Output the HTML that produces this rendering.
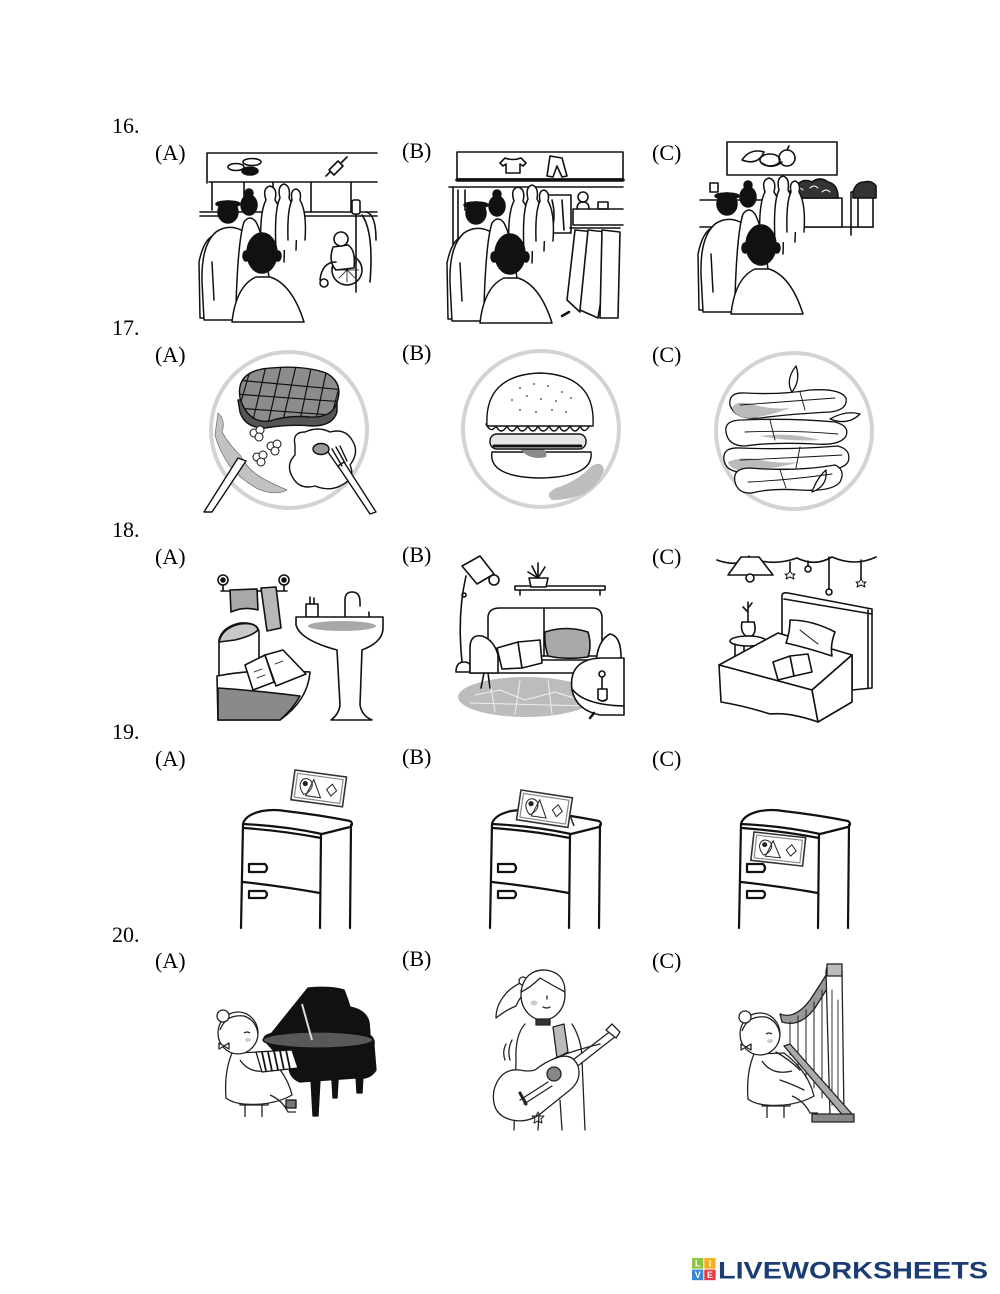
<!DOCTYPE html>
<html><head><meta charset="utf-8"><style>
html,body{margin:0;padding:0;background:#fff;}
svg{display:block;}
.t{font-family:"Liberation Serif",serif;font-size:22px;fill:#000;}
</style></head><body>
<svg width="1000" height="1294" viewBox="0 0 1000 1294" xmlns="http://www.w3.org/2000/svg">
<defs>
<clipPath id="steakclip"><path d="M240 398 Q236 374 262 369 Q300 364 326 373 Q345 383 336 405 Q330 418 310 417 Q288 415 270 421 Q248 424 240 398 Z"/></clipPath>
<g id="q" stroke="#111" stroke-width="1.5" stroke-linejoin="round" stroke-linecap="round">
 <path fill="#fff" d="M262 262 Q258 215 266 200 Q262 188 270 186 Q278 188 275 200 Q286 215 284 262"/>
 <path fill="#fff" d="M276 250 Q274 210 280 198 Q277 186 284 184 Q291 186 289 198 Q298 212 296 250"/>
 <path fill="#fff" d="M288 240 Q287 210 292 200 Q290 190 296 189 Q302 191 300 200 Q307 212 305 240"/>
 <path fill="#fff" d="M200 318 L199 262 Q204 238 215 235 L222 240 L220 318 Z"/>
 <path fill="#fff" d="M204 320 L202 282 Q201 245 216 232 Q228 224 241 230 Q252 240 254 262 L252 320 Z"/>
 <path fill="none" d="M212 262 L214 300 M244 262 L246 300"/>
 <ellipse cx="228" cy="212" rx="10" ry="11" fill="#111"/>
 <ellipse cx="228" cy="204" rx="12" ry="3" fill="#111"/>
 <path fill="#fff" d="M236 305 Q238 240 244 222 Q250 214 256 222 Q266 240 272 305 Z"/>
 <ellipse cx="249" cy="205" rx="8" ry="10" fill="#111"/>
 <circle cx="249" cy="193" r="4" fill="#111"/>
 <path fill="#fff" d="M232 322 Q236 286 256 277 L270 277 Q292 284 304 322 Z"/>
 <ellipse cx="246" cy="256" rx="3" ry="5" fill="#111"/>
 <ellipse cx="278" cy="256" rx="3" ry="5" fill="#111"/>
 <ellipse cx="262" cy="253" rx="15" ry="20" fill="#111"/>
</g>
<g id="fr" stroke="#111" stroke-width="2.2" fill="none" stroke-linecap="round" stroke-linejoin="round">
 <path fill="#fff" d="M243 824 Q245 815 262 811 Q275 809 285 811 Q320 815 350 821 Q354 824 350 827 Q338 830 322 834 Q285 826 243 824 Z"/>
 <path d="M244 828 Q285 831 321 838"/>
 <path d="M243 824 L241 928"/>
 <path d="M321 834 L320 928"/>
 <path d="M351 825 L350 928"/>
 <path d="M243 882 Q280 886 320 893"/>
 <path d="M249 864 H265 Q269 868 265 872 H249 Z"/>
 <path d="M249 891 H265 Q269 894 265 898 H249 Z"/>
</g>
<g id="pic">
 <rect x="0" y="0" width="52" height="30" fill="#fff" stroke="#333" stroke-width="1.6"/>
 <rect x="3" y="3" width="46" height="24" fill="none" stroke="#888" stroke-width="1.2"/>
 <path d="M13 7 Q20 8 19 15 Q17 21 12 23 Q7 18 7 13 Q8 7 13 7 Z" fill="none" stroke="#222" stroke-width="1"/>
 <circle cx="12" cy="12" r="2.6" fill="#222"/>
 <path d="M20 7 L29 24 L14 24 Z" fill="none" stroke="#222" stroke-width="1"/>
 <path d="M39 9 L44 15 L39 21 L34 15 Z" fill="none" stroke="#222" stroke-width="1"/>
</g>
<g id="girl" stroke="#222" stroke-width="1.3" fill="#fff" stroke-linejoin="round">
 <path d="M245 1100 V1117 M262 1100 V1117"/>
 <rect x="240" y="1100" width="28" height="5" fill="#fff"/>
 <path d="M232 1053 Q224 1072 226 1098 Q236 1106 262 1104 Q280 1102 292 1095 Q286 1070 262 1052 Z"/>
 <path d="M270 1095 Q282 1100 288 1112 L296 1112" fill="none"/>
 <path d="M240 1060 Q250 1075 270 1070" fill="none"/>
 <ellipse cx="238" cy="1033" rx="20" ry="21"/>
 <path d="M220 1030 Q226 1014 244 1016 Q256 1020 258 1034" fill="none"/>
 <circle cx="223" cy="1016" r="6"/>
 <path d="M219 1043 l5 3 l-5 3 z M229 1043 l-5 3 l5 3 z"/>
 <ellipse cx="248" cy="1040" rx="3" ry="2" fill="#ccc" stroke="none"/>
 <path d="M244 1033 q3 -2 6 0" fill="none"/>
</g>
</defs>

<!-- Labels -->
<text class="t" x="112" y="133">16.</text>
<text class="t" x="155" y="160">(A)</text>
<text class="t" x="402" y="158">(B)</text>
<text class="t" x="652" y="160">(C)</text>
<text class="t" x="112" y="335">17.</text>
<text class="t" x="155" y="362">(A)</text>
<text class="t" x="402" y="360">(B)</text>
<text class="t" x="652" y="362">(C)</text>
<text class="t" x="112" y="537">18.</text>
<text class="t" x="155" y="564">(A)</text>
<text class="t" x="402" y="562">(B)</text>
<text class="t" x="652" y="564">(C)</text>
<text class="t" x="112" y="739">19.</text>
<text class="t" x="155" y="766">(A)</text>
<text class="t" x="402" y="764">(B)</text>
<text class="t" x="652" y="766">(C)</text>
<text class="t" x="112" y="942">20.</text>
<text class="t" x="155" y="968">(A)</text>
<text class="t" x="402" y="966">(B)</text>
<text class="t" x="652" y="968">(C)</text>

<!-- 16 A -->
<g stroke="#111" stroke-width="1.6" fill="none" stroke-linecap="round" stroke-linejoin="round">
 <path d="M207 153 H377 M207 153 V183 M209 182 H377"/>
 <path d="M212 182 V210 M244 182 V200 M273 182 V195 M311 182 V212 M351 182 V212"/>
 <path d="M200 212 H377 M200 216 H225 M300 216 H377"/>
 <ellipse cx="236" cy="167" rx="8" ry="3.5"/>
 <ellipse cx="252" cy="162" rx="9" ry="3.5"/>
 <ellipse cx="250" cy="171" rx="8" ry="4" fill="#111"/>
 <path d="M329 170 L338 161 L343 166 L334 175 Z"/>
 <path d="M326 176 L330 172 M341 163 L347 157"/>
 <circle cx="347" cy="270" r="15" fill="#fff"/>
 <path d="M347 258 V282 M335 270 H359 M339 262 L355 278 M355 262 L339 278" stroke-width="0.8"/>
 <circle cx="324" cy="283" r="4" fill="#fff"/>
 <path d="M356 200 V292"/>
 <rect x="352" y="200" width="8" height="14" rx="2" fill="#fff"/>
 <path fill="#fff" d="M333 247 Q328 262 336 270 L354 268 Q356 250 348 245 Z"/>
 <circle cx="341" cy="239" r="7" fill="#fff"/>
 <path d="M336 262 Q322 262 320 280"/>
 <path d="M362 215 Q374 232 370 282 M366 212 Q376 214 376 240"/>
</g>
<use href="#q"/>

<!-- 16 B -->
<g stroke="#111" stroke-width="1.6" fill="none" stroke-linecap="round" stroke-linejoin="round">
 <rect x="457" y="152" width="166" height="27" fill="#fff"/>
 <path d="M457 180 H623" stroke-width="3.5"/>
 <path d="M505 158 L500 163 L503 166 L506 164 L506 173 L520 173 L520 164 L523 166 L526 163 L521 158 Q513 161 505 158 Z"/>
 <path d="M550 156 L562 158 L567 176 L562 177 L557 166 L553 177 L547 176 Z"/>
 <path d="M449 187 H623 M453 187 V258 M458 190 V240 M465 190 V210"/>
 <rect x="547" y="195" width="24" height="38"/>
 <path d="M552 200 Q556 215 552 230 M562 200 L564 230"/>
 <path d="M573 209 H623 M573 209 V225 M573 225 H623"/>
 <circle cx="583" cy="197" r="5"/>
 <path d="M577 209 Q577 202 583 202 Q589 202 589 209"/>
 <rect x="598" y="202" width="10" height="7"/>
 <path d="M570 228 H620"/>
 <path fill="#fff" d="M575 230 L567 300 L580 312 L588 260 L595 232 Z"/>
 <path fill="#fff" d="M588 230 L580 310 L598 318 L606 270 L606 232 Z"/>
 <path fill="#fff" d="M602 230 L600 318 L618 318 L620 232 Z"/>
 <path d="M569 312 L562 316" stroke-width="2.5"/>
</g>
<use href="#q" x="248" y="1"/>

<!-- 16 C -->
<g stroke="#111" stroke-width="1.6" fill="none" stroke-linecap="round" stroke-linejoin="round">
 <rect x="727" y="142" width="110" height="33" fill="#fff"/>
 <path d="M742 160 Q750 148 764 152 Q758 166 742 160 Z"/>
 <ellipse cx="770" cy="160" rx="10" ry="6"/>
 <path d="M762 163 Q772 170 782 162"/>
 <circle cx="787" cy="158" r="8"/>
 <path d="M787 150 L789 146"/>
 <path d="M700 200 H787 M700 227 H873"/>
 <rect x="788" y="198" width="54" height="29" fill="#fff"/>
 <path fill="#333" d="M788 198 Q790 186 798 184 Q804 178 812 182 Q820 176 828 182 Q838 184 838 198 Z"/>
 <path d="M795 190 q4 -4 8 0 M810 188 q4 -4 8 0 M822 192 q4 -4 8 0" stroke="#fff" stroke-width="1"/>
 <rect x="851" y="192" width="22" height="35" fill="#fff"/>
 <path fill="#333" d="M853 192 Q856 182 864 182 Q872 180 876 186 L876 198 L853 198 Z"/>
 <path d="M851 227 V235 M858 198 V227"/>
 <rect x="710" y="183" width="8" height="9" fill="#fff"/>
</g>
<use href="#q" x="499" y="-8"/>

<!-- 17 A -->
<circle cx="289" cy="430" r="78" fill="#fff" stroke="#d3d3d3" stroke-width="4"/>
<g stroke="#111" stroke-width="1.4" stroke-linejoin="round" stroke-linecap="round">
 <path fill="#c2c2c2" stroke="#777" stroke-width="0.8" d="M218 413 Q226 420 222 432 Q230 446 240 455 Q248 470 262 478 Q275 485 287 490 Q275 496 258 489 Q240 479 229 465 Q219 450 215 435 Z"/>
 <path fill="#555" d="M238 400 L240 412 Q245 428 265 428 Q290 424 312 426 Q333 426 337 412 L337 400 Z"/>
 <path fill="#8c8c8c" d="M240 398 Q236 374 262 369 Q300 364 326 373 Q345 383 336 405 Q330 418 310 417 Q288 415 270 421 Q248 424 240 398 Z"/>
 <g clip-path="url(#steakclip)" fill="none" stroke-width="1.2">
  <path d="M252 364 L238 412 M267 362 L252 424 M282 362 L268 424 M297 362 L283 420 M312 364 L300 420 M327 368 L316 420 M342 376 L331 418"/>
  <path d="M236 380 L345 390 M234 394 L345 402 M236 408 L345 416"/>
 </g>
 <g fill="#fff" stroke-width="1">
  <circle cx="254" cy="433" r="4"/><circle cx="260" cy="430" r="4"/><circle cx="259" cy="437" r="4"/>
  <circle cx="271" cy="446" r="4"/><circle cx="277" cy="444" r="4"/><circle cx="275" cy="451" r="4"/>
  <circle cx="257" cy="457" r="4"/><circle cx="263" cy="455" r="4"/><circle cx="261" cy="462" r="4"/>
 </g>
 <path fill="#fff" d="M295 445 Q292 432 305 432 Q318 426 330 432 Q345 428 352 440 Q360 452 350 465 Q356 478 342 485 Q330 492 315 486 Q300 490 293 478 Q285 465 295 455 Z"/>
 <ellipse cx="321" cy="449" rx="8" ry="5.5" fill="#999"/>
 <path fill="#fff" d="M338 466 L344 462 L376 512 L370 514 Z"/>
 <path fill="none" d="M328 452 L339 468 M332 449 L342 466 M336 447 L345 463 M340 446 L347 461"/>
 <path fill="#fff" d="M238 458 L246 461 L212 512 L204 512 Z"/>
</g>

<!-- 17 B -->
<circle cx="541" cy="429" r="78" fill="#fff" stroke="#d3d3d3" stroke-width="4"/>
<g stroke="#111" stroke-width="1.4" stroke-linejoin="round" stroke-linecap="round">
 <path fill="#bdbdbd" stroke="none" d="M592 466 Q602 460 604 470 Q598 486 585 493 Q570 500 552 500 Q544 494 556 488 Q576 482 592 466 Z"/>
 <path fill="#fff" d="M492 452 Q488 477 540 478 Q594 477 591 452 Z"/>
 <path fill="#8a8a8a" stroke="none" d="M520 449 Q530 461 546 457 Q548 450 540 448 Z"/>
 <rect x="490" y="434" width="96" height="15" rx="7" fill="#e6e6e6"/>
 <path d="M494 446 H582" stroke-dasharray="1 1.6" stroke-width="3" fill="none"/>
 <path fill="#fff" d="M486 424 q5 10 10 2 q5 10 11 0 q5 10 10 0 q5 10 11 0 q5 10 10 0 q5 10 11 0 q5 10 10 0 q5 10 11 0 q5 10 10 0 q5 10 10 -2 Z"/>
 <path fill="#fff" d="M487 426 Q484 375 540 373 Q596 375 593 426 Z"/>
 <g fill="#333" stroke="none">
  <circle cx="520" cy="388" r="0.9"/><circle cx="534" cy="384" r="0.9"/><circle cx="548" cy="386" r="0.9"/><circle cx="562" cy="392" r="0.9"/>
  <circle cx="512" cy="400" r="0.9"/><circle cx="527" cy="396" r="0.9"/><circle cx="541" cy="399" r="0.9"/><circle cx="556" cy="401" r="0.9"/><circle cx="571" cy="398" r="0.9"/>
  <circle cx="520" cy="410" r="0.9"/><circle cx="536" cy="412" r="0.9"/><circle cx="552" cy="410" r="0.9"/><circle cx="566" cy="412" r="0.9"/>
 </g>
</g>

<!-- 17 C -->
<circle cx="794" cy="431" r="78" fill="#fff" stroke="#d3d3d3" stroke-width="4"/>
<g stroke="#111" stroke-width="1.3" stroke-linejoin="round" stroke-linecap="round">
 <path fill="#fff" d="M792 392 Q785 380 796 366 Q801 380 792 392 Z"/>
 <path fill="#fff" d="M730 405 Q728 392 745 393 Q780 395 810 390 Q840 388 846 398 Q848 410 830 412 Q790 414 760 418 Q735 420 730 405 Z"/>
 <path fill="#bbb" stroke="none" d="M732 408 Q736 400 752 404 Q770 410 790 408 Q770 416 750 418 Q736 418 732 408 Z"/>
 <path fill="#fff" d="M830 419 Q846 410 860 414 Q848 426 830 419 Z"/>
 <path fill="#fff" d="M726 432 Q724 420 742 420 Q790 418 835 422 Q850 426 846 436 Q840 446 815 444 Q770 442 745 446 Q728 446 726 432 Z"/>
 <path fill="#bbb" stroke="none" d="M760 436 Q790 432 820 440 Q790 442 760 436 Z"/>
 <path fill="#fff" d="M724 460 Q722 447 740 448 Q790 450 838 446 Q852 450 848 462 Q842 472 810 470 Q770 468 742 472 Q726 472 724 460 Z"/>
 <path fill="#bbb" stroke="none" d="M728 462 Q740 456 760 460 Q780 464 800 462 Q770 470 745 471 Q730 470 728 462 Z"/>
 <path fill="#fff" d="M735 482 Q732 468 750 468 Q795 472 835 465 Q846 470 840 482 Q832 492 800 490 Q770 488 752 493 Q738 494 735 482 Z"/>
 <path fill="#fff" d="M812 492 Q817 478 826 470 Q828 486 812 492 Z"/>
 <path fill="none" stroke-width="0.9" d="M740 405 Q780 402 835 398 M745 432 Q790 430 838 434 M740 460 Q790 458 842 455 M748 482 Q790 480 832 474 M800 392 L805 410 M770 420 L775 440 M800 447 L796 468 M780 470 L786 488"/>
</g>

<!-- 18 A bathroom -->
<g stroke="#111" stroke-width="1.6" fill="none" stroke-linecap="round" stroke-linejoin="round">
 <circle cx="223" cy="580" r="5"/><circle cx="223" cy="580" r="2" fill="#111"/>
 <circle cx="284" cy="580" r="5"/><circle cx="284" cy="580" r="2" fill="#111"/>
 <path d="M223 585 V591 M284 585 V591 M221 591 H287"/>
 <path fill="#a8a8a8" d="M230 590 L257 589 L258 610 Q244 606 231 612 Z"/>
 <path fill="#b8b8b8" d="M261 588 L276 587 L281 628 L267 631 Z"/>
 <rect x="306" y="604" width="12" height="13" fill="#fff"/>
 <path d="M310 604 V597 M314 604 V598"/>
 <path d="M345 617 V600 Q345 592 352 592 Q360 592 360 602 V606"/>
 <path d="M369 617 V612"/>
 <path fill="#fff" d="M296 617 H383 V628 Q383 642 362 650 L360 705 Q362 716 372 720 H331 Q339 714 340 705 L337 650 Q300 640 296 625 Z"/>
 <ellipse cx="342" cy="626" rx="34" ry="5" fill="#a8a8a8" stroke="none"/>
 <path fill="#fff" d="M219 640 Q222 627 240 623 Q258 622 259 632 L259 680 L219 682 Z"/>
 <path fill="#c8c8c8" d="M219 642 Q222 628 240 624 Q256 622 258 630 Q252 636 235 640 Z"/>
 <path fill="#fff" d="M217 676 Q260 668 310 672 Q308 700 280 720 H218 Z"/>
 <path fill="#8a8a8a" d="M218 688 Q250 690 300 696 Q292 710 280 720 H218 Z"/>
 <path fill="#fff" d="M245 665 L265 655 L274 682 L253 690 Z"/>
 <path fill="#fff" d="M265 655 L283 650 L306 674 L276 686 Z"/>
 <path d="M254 672 l8 -3 M257 678 l8 -3 M275 664 l8 -3" stroke-width="0.8"/>
</g>

<!-- 18 B living room -->
<g stroke="#111" stroke-width="1.6" fill="none" stroke-linecap="round" stroke-linejoin="round">
 <ellipse cx="526" cy="697" rx="68" ry="20" fill="#bcbcbc" stroke="none"/>
 <path d="M475 695 L500 690 L525 700 L555 692 L580 700 M490 682 L495 712 M520 680 L515 714 M548 680 L552 714 M470 703 L590 706" stroke="#eee" stroke-width="1"/>
 <path fill="#fff" d="M462 566 L480 556 L494 574 L477 584 Z"/>
 <circle cx="494" cy="580" r="5"/>
 <path d="M466 576 Q457 615 462 662"/>
 <circle cx="464" cy="595" r="2"/>
 <path fill="#fff" d="M456 672 Q456 662 464 662 Q472 662 472 672 Z"/>
 <rect x="515" y="586" width="90" height="4" fill="#fff"/>
 <path d="M520 590 V595 M600 590 V595"/>
 <path fill="#fff" d="M529 578 H548 L546 587 H531 Z"/>
 <path d="M538 578 L532 566 M538 578 L538 563 M538 578 L545 567 M538 578 L528 572"/>
 <path fill="#fff" d="M488 656 V618 Q488 608 500 608 H592 Q602 608 602 618 V656 Z"/>
 <path d="M544 608 V656"/>
 <path fill="#fff" d="M470 660 H620 V673 H470 Z"/>
 <path fill="#fff" d="M470 673 V648 Q470 634 482 636 Q494 640 498 655 V673 Z"/>
 <path fill="#fff" d="M596 662 Q598 640 610 634 Q622 636 621 662 Z"/>
 <path d="M484 673 L481 688 M488 673 L490 688 M597 673 L599 686"/>
 <path fill="#a8a8a8" d="M545 632 Q566 625 588 632 Q592 645 588 657 Q566 660 548 656 Q544 644 545 632 Z"/>
 <path fill="#fff" d="M497 648 L518 642 L522 668 L502 669 Z"/>
 <path fill="#fff" d="M518 642 L540 640 L542 663 L522 668 Z"/>
 <path fill="#fff" d="M572 690 Q568 660 600 658 H624 V715 H600 Q576 710 572 690 Z"/>
 <path d="M573 690 Q585 705 624 706"/>
 <path d="M594 713 L590 718" stroke-width="2.5"/>
 <path fill="#fff" d="M598 689 H607 V699 Q603 703 598 699 Z"/>
 <path d="M602 689 V676"/>
 <circle cx="602" cy="674" r="3" fill="#fff"/>
</g>

<!-- 18 C bedroom -->
<g stroke="#111" stroke-width="1.6" fill="none" stroke-linecap="round" stroke-linejoin="round">
 <path d="M717 560 Q735 567 752 559 Q775 566 797 558 Q815 567 832 557 Q855 567 876 557"/>
 <path d="M749 559 V556"/>
 <path fill="#fff" d="M741 557 L728 575 H773 L759 557 Z"/>
 <circle cx="750" cy="578" r="4" fill="#fff"/>
 <path d="M790 562 V572"/>
 <path d="M790 571 l2 3 l3 0 l-2 2 l1 3 l-4 -2 l-4 2 l1 -3 l-2 -2 l3 0 z" fill="#fff" stroke-width="1"/>
 <path d="M808 561 V566"/><circle cx="808" cy="569" r="3"/>
 <path d="M829 557 V589"/><circle cx="829" cy="592" r="3"/>
 <path d="M861 560 V580"/>
 <path d="M861 579 l2 3 l3 0 l-2 2 l1 3 l-4 -2 l-4 2 l1 -3 l-2 -2 l3 0 z" fill="#fff" stroke-width="1"/>
 <path fill="#fff" d="M782 640 V596 Q782 592 788 593 L872 609 V688 L852 690 L852 655 Z"/>
 <path d="M868 610 V688 M784 599 L872 614"/>
 <path d="M742 622 Q740 632 746 636 H752 Q757 632 754 622 Z" fill="#fff"/>
 <path d="M748 622 V602 M748 612 l-5 -5 M748 608 l4 -5"/>
 <ellipse cx="748" cy="641" rx="18" ry="5" fill="#fff"/>
 <path d="M735 644 V660 M761 644 V660 M744 646 V665"/>
 <path fill="#fff" d="M719 665 L778 633 L852 655 L812 690 Z"/>
 <path fill="#fff" d="M719 665 L812 690 L818 722 Q790 712 770 714 Q745 706 721 702 Z"/>
 <path fill="#fff" d="M812 690 L852 655 L852 702 L818 722 Z"/>
 <path fill="#fff" d="M790 620 Q812 620 835 632 Q830 645 832 656 Q808 648 786 643 Q790 632 790 620 Z"/>
 <path d="M800 630 Q810 638 818 644" stroke-width="1"/>
 <path fill="#fff" d="M773 662 L790 656 L794 676 L778 680 Z"/>
 <path fill="#fff" d="M790 656 L808 654 L812 672 L794 676 Z"/>
</g>

<!-- 19 fridges -->
<use href="#fr"/>
<use href="#fr" x="249"/>
<use href="#fr" x="498"/>
<use href="#pic" transform="translate(295,770) rotate(7.8)"/>
<path d="M568 810 L574 826" stroke="#222" stroke-width="1.5"/>
<use href="#pic" transform="translate(521,790) rotate(8.6)"/>
<use href="#pic" transform="translate(754,832) rotate(6.3) scale(1,0.95)"/>

<!-- 20 A piano -->
<use href="#girl"/>
<g stroke="#111" stroke-width="1.3" stroke-linejoin="round">
 <path fill="#111" d="M271 1034 L308 988 Q330 986 344 990 Q348 1000 350 1007 Q366 1010 369 1022 L370 1034 Z"/>
 <path fill="#111" d="M264 1040 Q262 1032 290 1032 L360 1032 Q376 1034 374 1046 L376 1070 Q370 1080 356 1078 L300 1082 Q290 1078 289 1068 Z"/>
 <ellipse cx="318" cy="1040" rx="55" ry="8" fill="#585858" stroke="#111"/>
 <path d="M302 1004 L312 1040" stroke="#ddd" stroke-width="2"/>
 <path fill="#111" d="M311 1080 H320 L318 1116 H313 Z"/>
 <path fill="#111" d="M356 1076 H363 L362 1093 H357 Z"/>
 <path fill="#111" d="M332 1080 H338 L337 1098 H333 Z"/>
 <path fill="#fff" d="M256 1052 L292 1050 L298 1068 L262 1072 Z"/>
 <path d="M262 1052 L266 1071 M268 1052 L272 1071 M274 1051 L278 1070 M280 1051 L284 1070 M286 1050 L290 1069" stroke-width="1.8"/>
 <rect x="286" y="1100" width="10" height="8" fill="#777"/>
</g>

<!-- 20 B guitar girl -->
<g stroke="#222" stroke-width="1.3" fill="#fff" stroke-linejoin="round" stroke-linecap="round">
 <path d="M525 1024 Q515 1035 516 1060 L514 1130 M572 1024 Q582 1040 582 1060 L585 1130"/>
 <path d="M540 1100 L538 1130 M560 1100 L562 1130"/>
 <path d="M528 980 Q512 985 504 996 Q496 1006 496 1018 Q506 1010 516 1006 Q520 996 528 990 Z"/>
 <circle cx="523" cy="981" r="4"/>
 <ellipse cx="543" cy="995" rx="22" ry="25"/>
 <path d="M521 992 Q524 970 545 970 Q565 972 565 992 Q552 985 540 978 Q530 988 521 992 Z"/>
 <ellipse cx="534" cy="1003" rx="3.5" ry="2.5" fill="#ccc" stroke="none"/>
 <path d="M547 996 l0 3 M543 1007 q4 2 7 0" fill="none"/>
 <path d="M536 1019 H550 V1025 H536 Z" fill="#333"/>
 <path fill="#bbb" d="M553 1027 L564 1024 L568 1052 L557 1058 Z"/>
 <path d="M512 1040 q-5 10 -2 20 M506 1044 q-4 8 -1 16" fill="none"/>
 <path d="M565 1066 L612 1030 L616 1036 L570 1072 Z"/>
 <path d="M606 1030 L612 1024 L620 1032 L616 1038 Z"/>
 <path d="M520 1070 Q500 1068 494 1090 Q490 1115 512 1120 Q530 1124 545 1110 Q560 1098 570 1090 Q582 1080 578 1066 Q572 1052 556 1058 Q545 1062 535 1070 Q528 1072 520 1070 Z"/>
 <circle cx="554" cy="1074" r="7" fill="#888"/>
 <path d="M520 1100 L548 1082 M524 1104 L552 1086" fill="none"/>
 <path d="M520 1093 L526 1104" stroke-width="3"/>
 <path d="M555 1058 Q575 1050 600 1044" fill="none"/>
 <path d="M538 1112 l2 4 l4 0 l-3 3 l1 4 l-4 -2 l-4 2 l1 -4 l-3 -3 l4 0 z" fill="none" stroke-width="1"/>
</g>

<!-- 20 C harp -->
<use href="#girl" x="522" y="1"/>
<g stroke="#222" stroke-width="1.3" stroke-linejoin="round" stroke-linecap="round">
 <path fill="#999" d="M780 1014 Q795 1020 810 1000 Q820 985 828 972 L832 980 Q824 994 815 1008 Q800 1028 782 1022 Z"/>
 <path d="M790 1022 V1055 M798 1016 V1067 M806 1010 V1078 M814 1002 V1088 M822 990 V1098" fill="none" stroke-width="1"/>
 <path fill="#fff" d="M826 972 Q826 964 834 964 Q842 964 842 972 L844 1116 H830 Z"/>
 <path fill="#bbb" d="M827 964 H842 V976 H827 Z"/>
 <path d="M832 990 V1105 M838 1000 V1110" fill="none" stroke-width="0.9"/>
 <path fill="#aaa" d="M784 1046 L790 1044 L852 1114 L845 1118 Z"/>
 <path fill="#888" d="M812 1114 H854 V1122 H812 Z"/>
 <path d="M776 1052 Q790 1060 800 1070 M780 1080 Q792 1084 804 1090" fill="none"/>
</g>

<!-- logo -->
<rect x="692" y="1258" width="11.3" height="10.6" fill="#8cc63e"/>
<rect x="704.3" y="1258" width="11.3" height="10.6" fill="#f5ae1c"/>
<rect x="692" y="1269.6" width="11.3" height="10.6" fill="#3a86d1"/>
<rect x="704.3" y="1269.6" width="11.3" height="10.6" fill="#e63a3f"/>
<g font-family="Liberation Sans, sans-serif" font-weight="bold" font-size="9" fill="#fff" text-anchor="middle">
<text x="697.7" y="1266.6">L</text><text x="710" y="1266.6">I</text><text x="697.7" y="1278.2">V</text><text x="710" y="1278.2">E</text>
</g>
<text x="718" y="1278.5" font-family="Liberation Sans, sans-serif" font-weight="bold" font-size="24.5" fill="#1b3d73" textLength="270" lengthAdjust="spacingAndGlyphs">LIVEWORKSHEETS</text>
</svg>
</body></html>
